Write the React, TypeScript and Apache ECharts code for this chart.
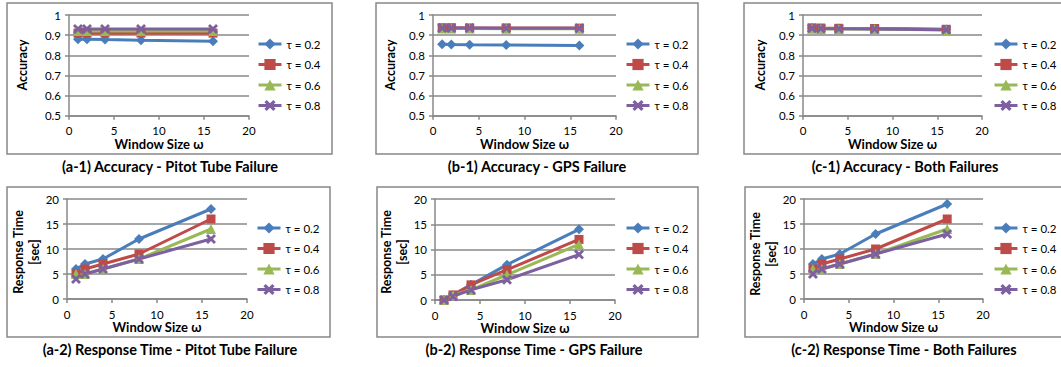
import React, { useEffect, useRef } from "react";
import * as echarts from "echarts";

const windowSizes = [1, 2, 4, 8, 16];
const tauLabels = ["τ = 0.2", "τ = 0.4", "τ = 0.6", "τ = 0.8"];

const accPitot = [
  [0.88, 0.88, 0.878, 0.875, 0.87],
  [0.91, 0.91, 0.91, 0.91, 0.91],
  [0.92, 0.92, 0.92, 0.92, 0.92],
  [0.93, 0.93, 0.93, 0.93, 0.93],
];
const accGps = [
  [0.855, 0.853, 0.852, 0.851, 0.848],
  [0.937, 0.937, 0.936, 0.936, 0.935],
  [0.933, 0.933, 0.933, 0.932, 0.932],
  [0.935, 0.935, 0.935, 0.934, 0.934],
];
const accBoth = [
  [0.935, 0.934, 0.933, 0.932, 0.928],
  [0.936, 0.935, 0.934, 0.933, 0.929],
  [0.932, 0.931, 0.931, 0.93, 0.926],
  [0.934, 0.933, 0.932, 0.931, 0.927],
];
const rtPitot = [
  [6, 7, 8, 12, 18],
  [5, 6, 7, 9, 16],
  [5, 5, 6, 8, 14],
  [4, 5, 6, 8, 12],
];
const rtGps = [
  [0, 1, 3, 7, 14],
  [0, 1, 3, 6, 12],
  [0, 1, 2, 5, 11],
  [0, 0.7, 2, 4, 9],
];
const rtBoth = [
  [7, 8, 9, 13, 19],
  [6, 7, 8, 10, 16],
  [6, 6, 7, 9, 14],
  [5, 6, 7, 9, 13],
];

const captions = [
  "(a-1) Accuracy - Pitot Tube Failure",
  "(a-2) Response Time - Pitot Tube Failure",
  "(b-1) Accuracy - GPS Failure",
  "(b-2) Response Time - GPS Failure",
  "(c-1) Accuracy - Both Failures",
  "(c-2) Response Time - Both Failures",
];
const xAxisTitle = "Window Size ω";
const accTitleLines = ["Accuracy"];
const rtTitleLines = ["Response Time", "[sec]"];

const COLORS = ["#4A7EBB", "#BE4B48", "#98B954", "#7D60A0"];
const XSYM =
  "path://M0,2 L2,0 L5,3 L8,0 L10,2 L7,5 L10,8 L8,10 L5,7 L2,10 L0,8 L3,5 Z";
const SYMBOLS = ["diamond", "rect", "triangle", XSYM];
const SYMSIZES = [10, 9, 10, 10];
const FONT = "Lato, 'Noto Sans', 'DejaVu Sans', sans-serif";
const GRAY = "#888888";

const panels = [
  { data: accPitot, kind: "acc", grid: { left: 69, top: 15, width: 180, height: 100.7 }, legend: { left: 257, top: 38 }, box: [7, 3, 325, 151], cap: [170, 166], ytitle: [[22, 65]] },
  { data: rtPitot, kind: "rt", grid: { left: 67, top: 199, width: 180, height: 100 }, legend: { left: 256, top: 222 }, box: [7, 187, 323, 150], cap: [170, 349], ytitle: [[18, 252], [34, 252]] },
  { data: accGps, kind: "acc", grid: { left: 433, top: 15, width: 183, height: 100.7 }, legend: { left: 625, top: 38 }, box: [376, 3, 322, 151], cap: [537, 166], ytitle: [[390, 65]] },
  { data: rtGps, kind: "rt", grid: { left: 435, top: 199, width: 180, height: 101 }, legend: { left: 625, top: 222 }, box: [377, 187, 321, 150], cap: [534, 349], ytitle: [[386, 252], [402, 252]] },
  { data: accBoth, kind: "acc", grid: { left: 803, top: 15, width: 179, height: 100.7 }, legend: { left: 993, top: 38 }, box: [744, 3, 340, 151], cap: [905, 166], ytitle: [[760, 65]] },
  { data: rtBoth, kind: "rt", grid: { left: 804, top: 199, width: 179, height: 100 }, legend: { left: 993, top: 222 }, box: [745, 187, 340, 150], cap: [904, 349], ytitle: [[755, 254], [771, 254]] },
];

export default function App() {
  const ref = useRef<HTMLDivElement>(null);
  useEffect(() => {
    if (!ref.current) return;
    const chart = echarts.init(ref.current, null, { renderer: "svg" });
    const grid: any[] = [];
    const xAxis: any[] = [];
    const yAxis: any[] = [];
    const series: any[] = [];
    const legend: any[] = [];
    const graphic: any[] = [];
    panels.forEach((p, i) => {
      grid.push({ ...p.grid, containLabel: false });
      xAxis.push({
        type: "value",
        gridIndex: i,
        min: 0,
        max: 20,
        interval: 5,
        axisLine: { show: true, onZero: false, lineStyle: { color: GRAY, width: 1.5 } },
        axisTick: { show: true, length: 4, lineStyle: { color: GRAY, width: 1.5 } },
        splitLine: { show: false },
        axisLabel: { color: "#000", fontFamily: FONT, fontSize: 11.5, margin: 9 },
        name: xAxisTitle,
        nameLocation: "middle",
        nameGap: 21,
        nameTextStyle: { color: "#000", fontFamily: FONT, fontSize: 13, fontWeight: "bold" },
      });
      const isAcc = p.kind === "acc";
      yAxis.push({
        type: "value",
        gridIndex: i,
        min: isAcc ? 0.5 : 0,
        max: isAcc ? 1 : 20,
        interval: isAcc ? 0.1 : 5,
        axisLine: { show: true, lineStyle: { color: GRAY, width: 1.5 } },
        axisTick: { show: true, length: 4, lineStyle: { color: GRAY, width: 1.5 } },
        splitLine: { show: true, lineStyle: { color: GRAY, width: 1.5 } },
        axisLabel: {
          color: "#000",
          fontFamily: FONT,
          fontSize: 11.5,
          margin: 8,
          formatter: (v: number) => (isAcc ? String(Math.round(v * 10) / 10) : String(v)),
        },
      });
      p.data.forEach((vals, s) => {
        series.push({
          type: "line",
          name: tauLabels[s],
          xAxisIndex: i,
          yAxisIndex: i,
          data: windowSizes.map((w, k) => [w, vals[k]]),
          symbol: SYMBOLS[s],
          symbolSize: SYMSIZES[s],
          showAllSymbol: true,
          lineStyle: { color: COLORS[s], width: 3 },
          itemStyle: { color: COLORS[s], borderWidth: 0 },
          emphasis: { disabled: true },
        });
      });
      legend.push({
        orient: "vertical",
        left: p.legend.left,
        top: p.legend.top,
        itemWidth: 23,
        itemHeight: 14,
        itemGap: 8.5,
        padding: 0,
        data: tauLabels,
        lineStyle: { width: 3 },
        textStyle: { color: "#000", fontFamily: FONT, fontSize: 11.5 },
        selectedMode: false,
      });
      graphic.push({
        type: "rect",
        shape: { x: p.box[0], y: p.box[1], width: p.box[2], height: p.box[3] },
        style: { fill: "none", stroke: GRAY, lineWidth: 1.5 },
        silent: true,
      });
      const lines = isAcc ? accTitleLines : rtTitleLines;
      lines.forEach((t, li) => {
        graphic.push({
          type: "text",
          x: p.ytitle[li][0],
          y: p.ytitle[li][1],
          rotation: Math.PI / 2,
          style: {
            text: t,
            fill: "#000",
            font: `bold 12.5px ${FONT}`,
            textAlign: "center",
            textVerticalAlign: "middle",
          },
          silent: true,
        });
      });
      graphic.push({
        type: "text",
        x: p.cap[0],
        y: p.cap[1],
        style: {
          text: captions[i],
          fill: "#000",
          font: `bold 14.5px ${FONT}`,
          textAlign: "center",
          textVerticalAlign: "middle",
        },
        silent: true,
      });
    });
    chart.setOption({
      animation: false,
      backgroundColor: "#fff",
      grid,
      xAxis,
      yAxis,
      series,
      legend,
      graphic,
    });
    return () => chart.dispose();
  }, []);
  return (
    <div
      ref={ref}
      style={{ position: "absolute", left: 0, top: 0, width: 1061, height: 367 }}
    />
  );
}
